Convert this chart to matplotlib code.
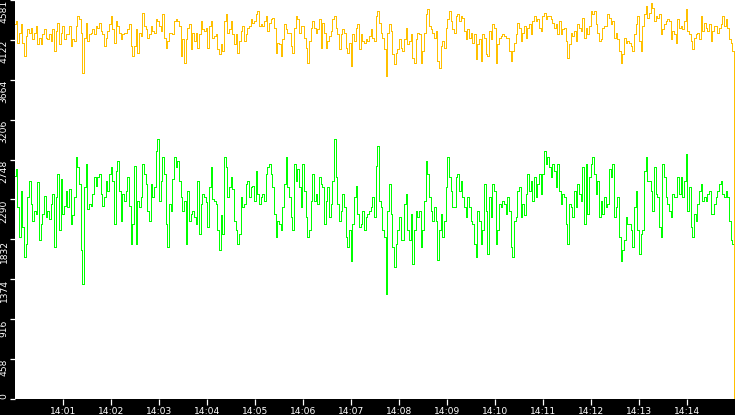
import numpy as np
import matplotlib
matplotlib.use("Agg")
import matplotlib.pyplot as plt
import matplotlib.dates as mdates

# ---- data ----
start_time = np.datetime64("2024-01-01T14:00:00")
end_time = np.datetime64("2024-01-01T14:15:00")
sample_step_ms = 2083  # about one sample every 2.08 s

yellow_values = [
    4302,4340,4092,4206,4302,4092,3939,4168,4245,4206,
    4264,4130,4206,4283,4073,4149,4073,4187,4245,4149,
    4130,4187,4111,4245,3996,4225,4321,4073,4206,4283,
    4130,4187,4187,4283,4054,4130,4111,4283,4397,4359,
    4206,3748,4149,4321,4111,4187,4206,4245,4187,4283,
    4264,4321,4225,4187,4054,4149,4225,4302,4397,4245,
    4092,4340,4283,4206,4130,4187,4206,4206,4245,4302,
    4054,3939,4054,4245,3977,4206,4168,4435,4283,4245,
    4149,4187,4283,4225,4206,4359,4340,4283,4225,4416,
    4149,4035,4111,4206,4206,4187,4340,4359,4340,4283,
    3939,4130,3863,4130,4264,4302,4015,4206,
    4111,4206,4035,4187,4340,4245,4225,4264,4035,4283,
    4340,4149,4168,4187,4016,3958,4073,3996,4340,4416,
    4206,4245,4340,4187,4073,4187,3977,4111,4225,4283,
    4111,4187,4264,4283,4359,4321,4340,4416,4454,4283,
    4302,4283,4340,4397,4225,4321,4359,4378,4264,3977,
    4092,4073,3939,4130,4302,4245,4206,4206,4054,3977,
    4264,4397,4359,4206,4283,4283,4149,4035,3863,4111,
    4264,4340,4264,4206,4245,4359,4035,4321,4206,4035,
    4111,4168,4225,4359,4397,4264,4187,4016,4187,4245,
    4206,4035,3977,4092,3825,4187,4111,4264,4302,4016,
    4187,4111,4092,4130,4111,4168,4245,4149,
    4111,4397,4454,4321,4206,4149,4015,3710,4206,4302,
    4225,3958,3844,3977,4015,4130,4035,3996,4130,4264,
    4073,4111,4187,3920,3863,4130,4206,4187,3863,3996,
    4206,4416,4474,4283,4245,4206,4149,4225,3882,3805,
    4054,4111,4035,4264,4359,4454,4340,4245,4206,4397,
    4416,4340,4397,4378,4225,4130,4245,4149,4206,4092,
    4187,3901,4073,4130,3882,4187,4149,3958,3939,4225,
    4130,4302,4264,3863,4073,4149,4168,4187,4168,4149,
    4149,3996,3882,3996,4092,4187,4321,4264,4111,4206,
    4283,4149,4264,4302,4187,4340,4397,4340,4359,4264,
    4225,4397,4435,4359,4397,4397,4359,4321,
    4264,4302,4187,4340,4187,4245,4264,4111,3920,4073,
    4206,4168,4225,4111,4302,4264,4225,4378,4149,4264,
    4187,4283,4454,4416,4454,4302,4206,4111,4130,4264,
    4283,4283,4416,4378,4302,4340,4149,4206,4130,3996,
    3863,3958,4149,4092,4111,4092,4054,3996,4187,4302,
    4397,4111,3996,4283,4416,4512,4378,4435,4550,4493,
    4340,4397,4378,4416,4187,4245,4302,4340,4359,4340,
    4130,4225,4187,4092,4359,4264,4283,4245,4340,4474,
    4225,4187,4111,4015,4149,4187,4206,4130,4397,4225,
    4321,4264,4225,4302,4111,4225,4283,4283,4206,4264,
    4302,4397,4283,4359,4264,4130,4092,3996,
    0,
]

green_values = [
    2565,2641,2202,1859,2393,1973,1630,1782,2317,2507,
    2240,2049,2164,2126,2488,1820,2011,2126,2336,2088,
    2164,2068,2240,2355,1744,2317,2584,1935,2527,2126,
    2221,2393,2202,2412,2011,2107,2317,2775,2660,2469,
    1706,1324,2431,2698,2183,2240,2221,2355,2546,2450,
    2546,2584,2355,2221,2317,2507,2393,2584,2660,2507,
    2011,2622,2736,2393,2049,2355,2278,2393,2546,2221,
    1782,2011,2679,1782,2278,2202,2317,2698,2584,2469,
    2164,2049,2469,2317,2431,2851,2985,2278,2507,2775,
    2584,2011,1744,2240,2164,2527,2775,2660,2736,2507,
    2317,2164,2278,1782,2393,2049,2126,2164,
    2088,2011,2507,1897,2240,2355,2317,2259,1973,2431,
    2660,2298,2278,2240,1935,1706,2107,1897,2775,2660,
    2317,2431,2546,2412,2049,1935,1782,1897,2317,2202,
    2240,2469,2507,2317,2431,2450,2278,2622,2355,2240,
    2317,2355,2278,2584,2660,2698,2584,2431,2126,1859,
    2049,2011,1935,2202,2469,2775,2431,2317,2088,1935,
    2698,2507,2641,2431,2202,2698,2393,2088,1859,1935,
    2278,2584,2278,2355,2240,2546,2469,2431,2011,2278,
    2431,2088,2240,2507,2985,2546,2240,2049,2164,2355,
    2202,1859,1744,1935,1589,2011,2317,2450,2126,1973,
    2011,2164,1935,2088,2126,2164,2202,2317,
    2088,2679,2908,2278,2202,1935,1859,1210,2164,2469,
    2126,1744,1515,1782,1935,2088,1820,1820,2240,2355,
    1935,1820,2126,1553,1935,2164,2088,2164,1744,1935,
    2278,2736,2584,2317,2164,2049,2202,2049,1591,1935,
    2126,1859,2049,2431,2775,2546,2393,2202,2202,2546,
    2584,2393,2507,2317,2202,2088,2317,2202,2049,2011,
    1782,1630,2164,2049,1782,1935,2469,2164,1668,2317,
    2088,2469,2393,1782,1935,2240,2202,2278,2240,2126,
    2317,2164,1744,1630,2049,2088,2393,2431,2088,2240,
    2107,2355,2584,2393,2507,2278,2546,2317,2469,2584,
    2355,2584,2851,2698,2775,2660,2546,2698,
    2622,2431,2698,2393,2240,2355,2317,2011,1782,2240,
    2202,2088,2393,2202,2469,2355,2278,2660,2011,2698,
    2126,2546,2698,2775,2584,2355,2507,2088,2278,2126,
    2317,2202,2240,2641,2546,2698,2088,2202,2317,1859,
    1589,1706,1820,2088,2011,2011,1935,1744,2202,2393,
    1935,1668,1897,1935,2622,2775,2507,2507,2393,2164,
    2660,2355,2317,1973,1859,2698,2546,2317,2240,2164,
    2088,2355,2317,2317,2546,2355,2546,2317,2507,2813,
    2164,2431,1973,1859,2126,2049,2240,2393,2469,2278,
    2317,2278,2355,2393,2126,2126,2240,2317,2393,2469,
    2507,2355,2317,2393,2317,2049,1820,1782,
    940,
]

y_max = 4581
y_tick_values = [0, 458.1, 916.2, 1374.3, 1832.4, 2290.5, 2748.6, 3206.7, 3664.8, 4122.9, 4581]
y_tick_labels = ["0", "458", "916", "1374", "1832", "2290", "2748", "3206", "3664", "4122", "4581"]
x_tick_labels = ["14:%02d" % m for m in range(1, 15)]

# ---- times ----
n = len(yellow_values)
times = start_time + np.arange(n - 1) * np.timedelta64(sample_step_ms, "ms")
times = np.append(times, end_time)
x_ticks = [np.datetime64("2024-01-01T" + lab + ":00") for lab in x_tick_labels]

# ---- figure ----
W, H = 735, 415
fig = plt.figure(figsize=(W / 100, H / 100), dpi=100, facecolor="black")
ax = fig.add_axes([15 / W, 16 / H, 720 / W, 399 / H], facecolor="white")

ax.plot(times, green_values, color="#00ff00", lw=0.72, drawstyle="steps-mid",
        antialiased=False)
ax.plot(times, yellow_values, color="#ffc000", lw=0.72, drawstyle="steps-mid",
        antialiased=False)

ax.set_xlim(start_time, end_time)
ax.set_ylim(0, y_max)

ax.set_xticks(x_ticks)
ax.set_xticklabels(x_tick_labels)
ax.set_yticks(y_tick_values)
ax.set_yticklabels(y_tick_labels, rotation=90)

for sp in ax.spines.values():
    sp.set_visible(False)

ax.tick_params(axis="x", colors="white", direction="out", length=4.5, width=0.9,
               labelsize=6.6, pad=1.5)
ax.tick_params(axis="y", colors="white", direction="out", length=3.5, width=0.9,
               labelsize=6.6, pad=1.0)
for lab in ax.get_yticklabels():
    lab.set_va("top")
ax.get_yticklabels()[0].set_va("bottom")

fig.savefig("out.png", dpi=100, facecolor="black")
